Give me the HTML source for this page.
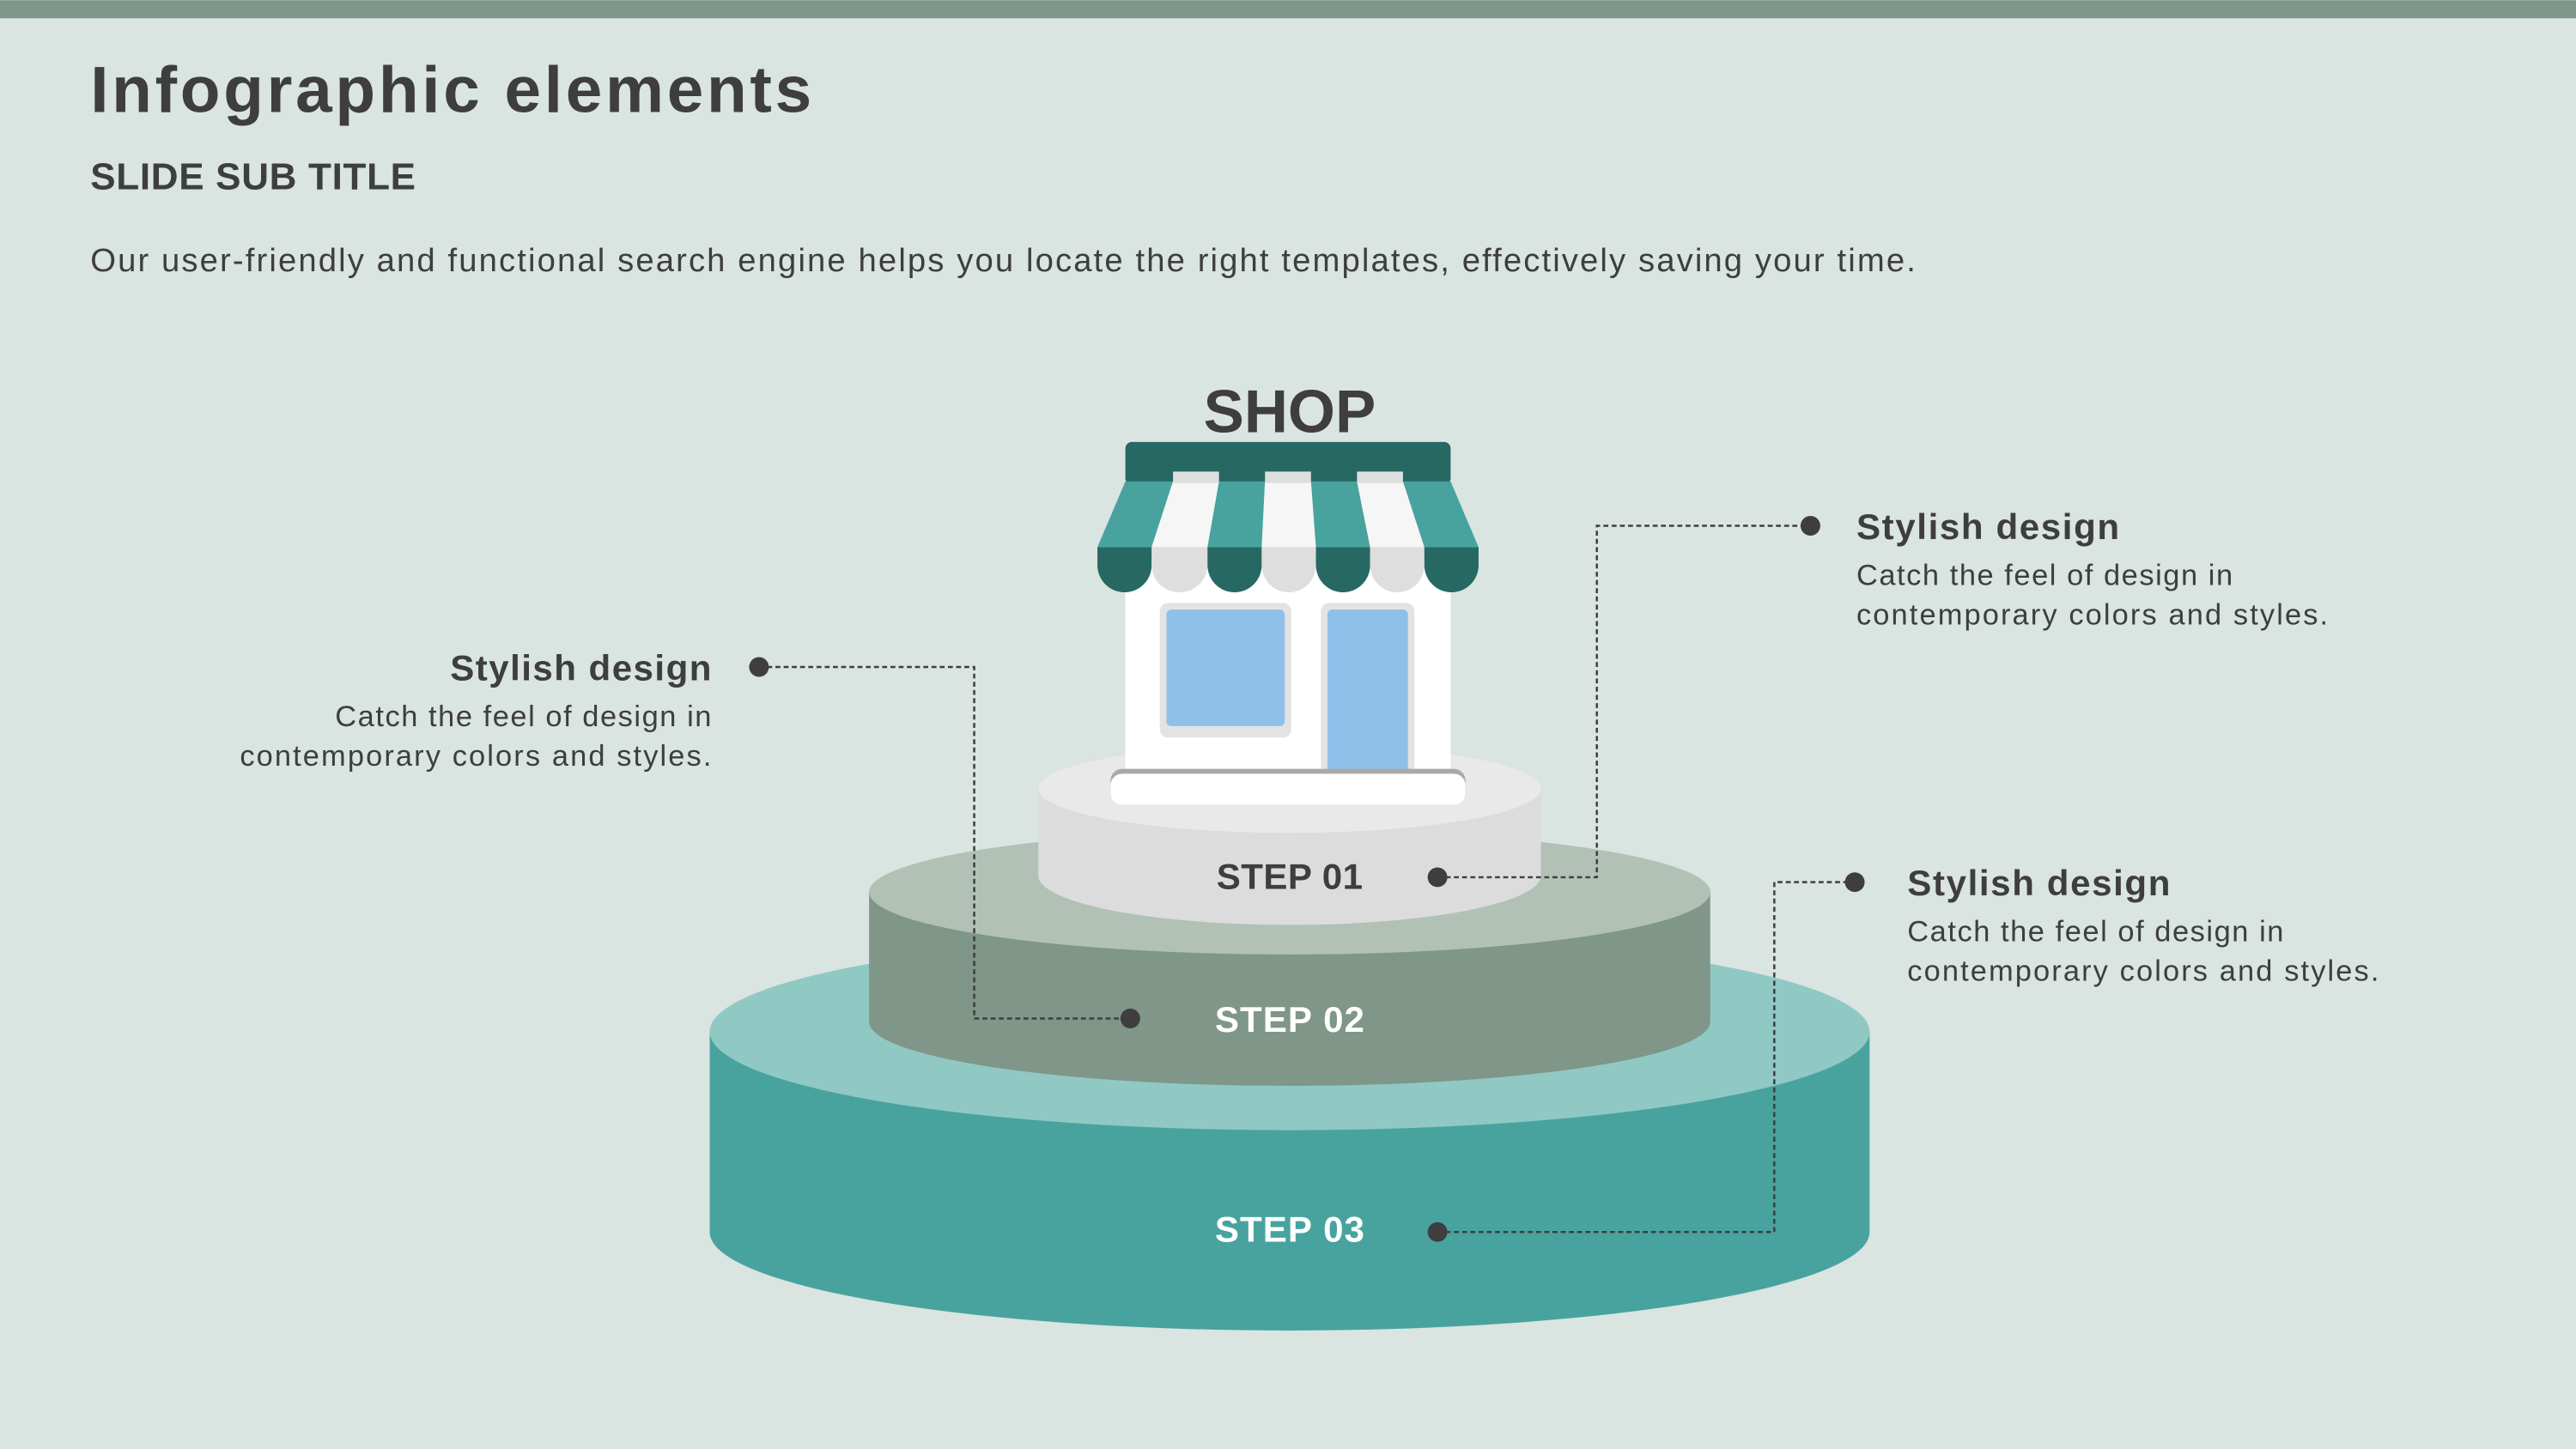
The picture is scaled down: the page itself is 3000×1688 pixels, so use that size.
<!DOCTYPE html>
<html><head><meta charset="utf-8"><style>
html,body{margin:0;padding:0;background:#dae4e0;}
svg{display:block}
text{font-family:"Liberation Sans",sans-serif;}
</style></head><body>
<svg width="3000" height="1688" viewBox="0 0 1568 882" xmlns="http://www.w3.org/2000/svg">
<rect width="1568" height="882" fill="#dae4e0"/>
<rect width="1568" height="11" fill="#7f978a"/>
<text x="55" y="68" font-size="40" font-weight="bold" fill="#3e3e3e" textLength="439">Infographic elements</text>
<text x="55" y="115" font-size="23" font-weight="bold" fill="#3e3e3e" textLength="198">SLIDE SUB TITLE</text>
<text x="55" y="165" font-size="20" fill="#3e3e3e" textLength="1111">Our user-friendly and functional search engine helps you locate the right templates, effectively saving your time.</text>

<path d="M432 628 L432 750 A353 60 0 0 0 1138 750 L1138 628 Z" fill="#48a39f"/>
<ellipse cx="785" cy="628" rx="353" ry="60" fill="#90c8c4"/>
<path d="M529 543 L529 622 A256 39 0 0 0 1041 622 L1041 543 Z" fill="#7f9688"/>
<ellipse cx="785" cy="543" rx="256" ry="38" fill="#b1c1b6"/>
<path d="M632 480 L632 533 A153 30 0 0 0 938 533 L938 480 Z" fill="#dcdcdc"/>
<ellipse cx="785" cy="480" rx="153" ry="27" fill="#e9e9e9"/>

<text x="785" y="263" font-size="37" font-weight="bold" fill="#3e3e3e" text-anchor="middle">SHOP</text>
<rect x="685" y="340" width="198" height="132" fill="#ffffff"/>
<rect x="706" y="367" width="80" height="82" rx="5" fill="#e3e3e3"/>
<rect x="710" y="371" width="72" height="71" rx="3" fill="#8fc0e9"/>
<rect x="804" y="367" width="57" height="104" rx="5" fill="#e3e3e3"/>
<rect x="808" y="371" width="49" height="100" rx="3" fill="#8fc0e9"/>
<rect x="676" y="468" width="216" height="22" rx="7" fill="#a9a9a9"/>
<rect x="676" y="471" width="216" height="19" rx="7" fill="#ffffff"/>
<rect x="685" y="269" width="198" height="26" rx="4" fill="#286862"/>
<polygon points="685,293 714,293 701,333 668,333" fill="#48a39f"/>
<polygon points="714,293 742,293 735,333 701,333" fill="#f6f6f6"/>
<polygon points="742,293 770,293 768,333 735,333" fill="#48a39f"/>
<polygon points="770,293 798,293 801,333 768,333" fill="#f6f6f6"/>
<polygon points="798,293 826,293 834,333 801,333" fill="#48a39f"/>
<polygon points="826,293 854,293 867,333 834,333" fill="#f6f6f6"/>
<polygon points="854,293 883,293 900,333 867,333" fill="#48a39f"/>
<rect x="714" y="287" width="28" height="7" fill="#dedede"/>
<rect x="770" y="287" width="28" height="7" fill="#dedede"/>
<rect x="826" y="287" width="28" height="7" fill="#dedede"/>
<g>
<path d="M668 333 h33 v11 a16.5 16.5 0 0 1 -33 0 Z" fill="#286862"/>
<path d="M701 333 h34 v11 a17 16.5 0 0 1 -34 0 Z" fill="#dedede"/>
<path d="M735 333 h33 v11 a16.5 16.5 0 0 1 -33 0 Z" fill="#286862"/>
<path d="M768 333 h33 v11 a16.5 16.5 0 0 1 -33 0 Z" fill="#dedede"/>
<path d="M801 333 h33 v11 a16.5 16.5 0 0 1 -33 0 Z" fill="#286862"/>
<path d="M834 333 h33 v11 a16.5 16.5 0 0 1 -33 0 Z" fill="#dedede"/>
<path d="M867 333 h33 v11 a16.5 16.5 0 0 1 -33 0 Z" fill="#286862"/>
</g>

<text x="785" y="541" font-size="22" font-weight="bold" fill="#3e3e3e" text-anchor="middle" textLength="89">STEP 01</text>
<text x="785" y="628" font-size="22" font-weight="bold" fill="#ffffff" text-anchor="middle" textLength="91">STEP 02</text>
<text x="785" y="756" font-size="22" font-weight="bold" fill="#ffffff" text-anchor="middle" textLength="91">STEP 03</text>

<g stroke="#3e3e3e" stroke-width="1.3" stroke-dasharray="3,2" fill="none">
<polyline points="462,406 593,406 593,620 688,620"/>
<polyline points="875,534 972,534 972,320 1102,320"/>
<polyline points="875,750 1080,750 1080,537 1129,537"/>
</g>
<g fill="#3e3e3e">
<circle cx="462" cy="406" r="6"/><circle cx="688" cy="620" r="6"/>
<circle cx="875" cy="534" r="6"/><circle cx="1102" cy="320" r="6"/>
<circle cx="875" cy="750" r="6"/><circle cx="1129" cy="537" r="6"/>
</g>

<g fill="#3e3e3e">
<text x="433" y="414" font-size="22" font-weight="bold" text-anchor="end" textLength="159">Stylish design</text>
<text x="433" y="442" font-size="18" text-anchor="end" textLength="229">Catch the feel of design in</text>
<text x="433" y="466" font-size="18" text-anchor="end" textLength="287">contemporary colors and styles.</text>
<text x="1130" y="328" font-size="22" font-weight="bold" textLength="160">Stylish design</text>
<text x="1130" y="356" font-size="18" textLength="229">Catch the feel of design in</text>
<text x="1130" y="380" font-size="18" textLength="287">contemporary colors and styles.</text>
<text x="1161" y="545" font-size="22" font-weight="bold" textLength="160">Stylish design</text>
<text x="1161" y="573" font-size="18" textLength="229">Catch the feel of design in</text>
<text x="1161" y="597" font-size="18" textLength="287">contemporary colors and styles.</text>
</g>
</svg>
</body></html>
